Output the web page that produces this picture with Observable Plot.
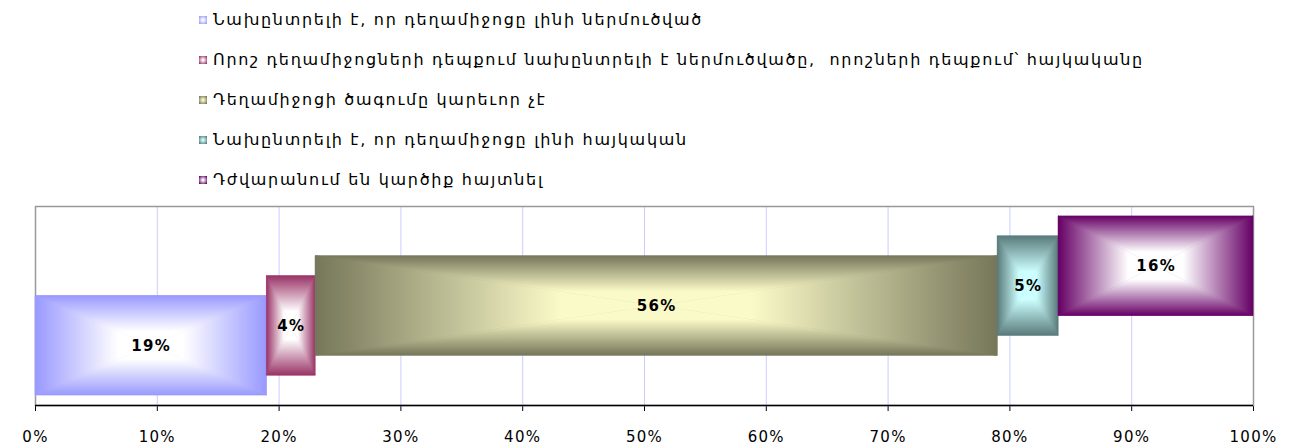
<!DOCTYPE html>
<html>
<head>
<meta charset="utf-8">
<script src="https://cdn.jsdelivr.net/npm/d3@7"></script>
<script src="https://cdn.jsdelivr.net/npm/@observablehq/plot@0.6"></script>
<style>
  html, body { margin: 0; padding: 0; background: #fff; }
  #legend { height: 200px; box-sizing: border-box; padding-left: 199px; padding-top: 0; font-family: "DejaVu Sans", sans-serif; font-size: 16px; letter-spacing: 1.7px; color: #000; }
  .item { height: 41px; display: flex; align-items: center; white-space: nowrap; margin-top: -1px; }
  .sw { width: 8px; height: 8px; margin-right: 6px; flex: none; }
  #chart svg { display: block; }
</style>
</head>
<body>
<div id="legend"></div>
<div id="chart"></div>
<script>
// ---- data ----
const categories = [
  "Նախընտրելի է, որ դեղամիջոցը լինի ներմուծված",
  "Որոշ դեղամիջոցների դեպքում նախընտրելի է ներմուծվածը,  որոշների դեպքում՝ հայկականը",
  "Դեղամիջոցի ծագումը կարեւոր չէ",
  "Նախընտրելի է, որ դեղամիջոցը լինի հայկական",
  "Դժվարանում են կարծիք հայտնել"
];
const values = [19, 4, 56, 5, 16];
const valueLabels = ["19%", "4%", "56%", "5%", "16%"];
const tickValues = [0, 10, 20, 30, 40, 50, 60, 70, 80, 90, 100];
const tickLabels = ["0%", "10%", "20%", "30%", "40%", "50%", "60%", "70%", "80%", "90%", "100%"];

// ---- styles ----
const edgeColors = ["#9999ff", "#993366", "#76765a", "#5a7a7a", "#660066"];
const centerColors = ["#ffffff", "#ffffff", "#fafac8", "#ccffff", "#ffffff"];

// legend
const legend = d3.select("#legend");
categories.forEach((c, i) => {
  const row = legend.append("div").attr("class", "item");
  row.append("div").attr("class", "sw")
    .style("background", `radial-gradient(${centerColors[i]} 10%, ${edgeColors[i]} 90%)`);
  row.append("span").style("white-space", "pre").text(c);
});

// table
const ends = d3.cumsum(values);
const table = categories.map((c, i) => ({
  category: c, value: values[i], label: valueLabels[i],
  x1: ends[i] - values[i], x2: ends[i], level: i
}));
const barSpan = 5;          // bar thickness in level units
const yDomain = [-0.5, categories.length - 1 + barSpan + 0.5];

const chart = Plot.plot({
  width: 1294,
  height: 248,
  marginTop: 7,
  marginBottom: 42,
  marginLeft: 35,
  marginRight: 41,
  style: { fontFamily: "DejaVu Sans, sans-serif", fontSize: "15px", color: "#000", background: "#fff", letterSpacing: "1.3px" },
  x: { domain: [0, 100], ticks: tickValues, tickFormat: (d) => tickLabels[tickValues.indexOf(d)], tickSize: 6, tickPadding: 20, label: null },
  y: { domain: yDomain, axis: null },
  color: { domain: categories, range: edgeColors },
  marks: [
    Plot.ruleX(tickValues.slice(1, -1), { stroke: "#ccccff", strokeWidth: 1, strokeOpacity: 1 }),
    Plot.frame({ stroke: "#999999", strokeWidth: 1.5 }),
    Plot.ruleY([yDomain[0]], { stroke: "#000", strokeWidth: 1.5 }),
    Plot.rect(table, { x1: "x1", x2: "x2", y1: "level", y2: (d) => d.level + barSpan, fill: "category" }),
    Plot.text(table, { x: (d) => (d.x1 + d.x2) / 2, y: (d) => d.level + barSpan / 2, text: "label", fontWeight: "bold", fontSize: 15, fill: "#000", fontFamily: "DejaVu Sans, sans-serif" })
  ]
});
document.getElementById("chart").append(chart);

// rectangular "from center" gradients: four triangles per bar
const svg = d3.select(chart);
const defs = svg.insert("defs", ":first-child");
const dirs = { t: [0, 0, 0, 1], b: [0, 1, 0, 0], l: [0, 0, 1, 0], r: [1, 0, 0, 0] };
categories.forEach((c, i) => {
  for (const [k, [x1, y1, x2, y2]] of Object.entries(dirs)) {
    const g = defs.append("linearGradient").attr("id", `g${i}${k}`)
      .attr("x1", x1).attr("y1", y1).attr("x2", x2).attr("y2", y2);
    g.append("stop").attr("offset", 0).attr("stop-color", edgeColors[i]);
    g.append("stop").attr("offset", 0.72).attr("stop-color", centerColors[i]);
    g.append("stop").attr("offset", 1).attr("stop-color", centerColors[i]);
  }
});
svg.selectAll('g[aria-label="rect"] rect').each(function (_, i) {
  const r = d3.select(this);
  const x = +r.attr("x"), y = +r.attr("y"), w = +r.attr("width"), h = +r.attr("height");
  const cx = x + w / 2, cy = y + h / 2;
  const parent = d3.select(this.parentNode);
  const tris = {
    t: [[x, y], [x + w, y], [cx, cy]],
    b: [[x, y + h], [x + w, y + h], [cx, cy]],
    l: [[x, y], [x, y + h], [cx, cy]],
    r: [[x + w, y], [x + w, y + h], [cx, cy]]
  };
  for (const [k, pts] of Object.entries(tris)) {
    parent.append("polygon").attr("points", pts.map((p) => p.join(",")).join(" "))
      .attr("fill", `url(#g${i}${k})`).attr("stroke", `url(#g${i}${k})`).attr("stroke-width", 0.6);
  }
});
// keep labels on top
svg.selectAll('g[aria-label="text"]').raise();
</script>
</body>
</html>
